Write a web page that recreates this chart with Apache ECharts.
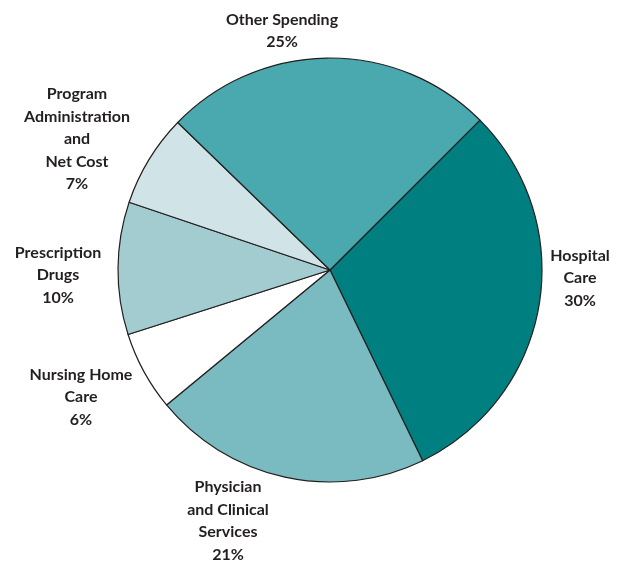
<!DOCTYPE html>
<html><head><meta charset="utf-8">
<script src="https://cdn.jsdelivr.net/npm/echarts@6/dist/echarts.min.js"></script>
<style>html,body{margin:0;padding:0;background:#fff}#c{width:617px;height:561px}</style>
</head><body><div id="c"></div>
<script>
const categories = ["Hospital\nCare", "Physician\nand Clinical\nServices", "Nursing Home\nCare", "Prescription\nDrugs", "Program\nAdministration\nand\nNet Cost", "Other Spending"];
const values = [30, 21, 6, 10, 7, 25];
const colors = ["#007f80", "#7abbc1", "#ffffff", "#a3ccd0", "#d0e4e7", "#4aa8af"];
const labelPos = [[580, 278], [228, 521], [81, 397], [58, 275], [77, 139], [282, 31]];
const chart = echarts.init(document.getElementById('c'));
chart.setOption({
  animation: false,
  series: [{
    type: 'pie',
    center: [330, 270],
    radius: 212,
    startAngle: 45,
    clockwise: true,
    data: categories.map((n, i) => ({name: n, value: values[i], itemStyle: {color: colors[i]}})),
    itemStyle: {borderColor: '#231f20', borderWidth: 1.2},
    label: {
      show: true,
      formatter: p => p.name + '\n' + p.value + '%',
      fontFamily: 'Lato, sans-serif',
      fontWeight: 'bold',
      fontSize: 16,
      lineHeight: 22.5,
      color: '#231f20',
      align: 'center',
      overflow: 'none',
      width: 200
    },
    labelLine: {show: false},
    labelLayout: p => ({x: labelPos[p.dataIndex][0], y: labelPos[p.dataIndex][1], align: 'center', verticalAlign: 'middle'}),
    emphasis: {disabled: true}
  }]
});
</script></body></html>
